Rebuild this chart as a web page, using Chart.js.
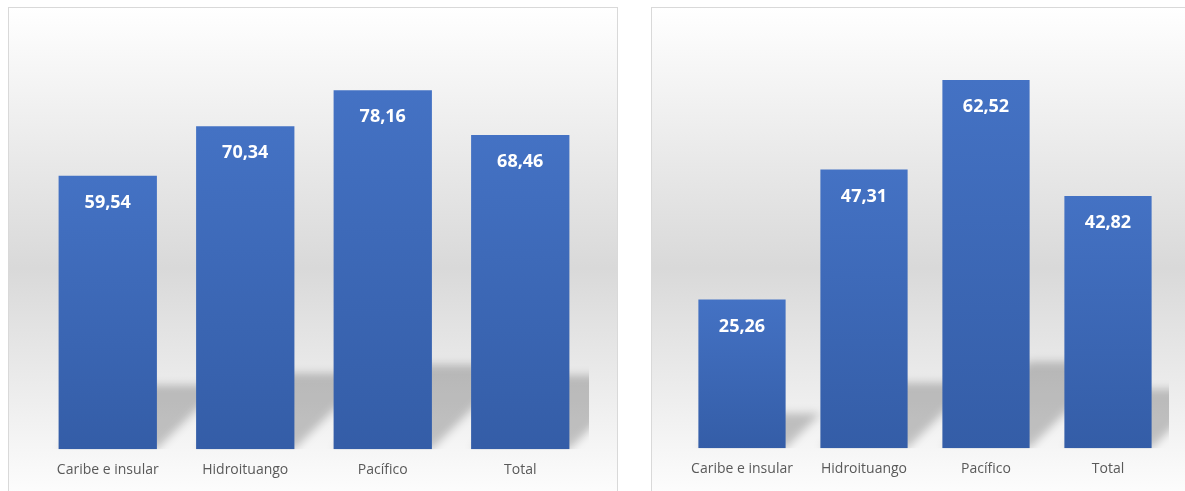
<!DOCTYPE html>
<html>
<head>
<meta charset="utf-8">
<script src="https://cdn.jsdelivr.net/npm/chart.js@4"></script>
<style>
  html, body { margin: 0; padding: 0; background: #ffffff; overflow: hidden; }
  body { width: 1185px; height: 491px; position: relative; }
  .panel {
    position: absolute;
    border: 1px solid #d9d9d9;
    background: linear-gradient(to bottom, #ffffff 0%, #d9d9d9 52%, #ffffff 100%);
    overflow: hidden;
  }
  #panelLeft { left: 8px; top: 7px; width: 608px; height: 500px; }
  #panelRight { left: 651px; top: 7px; width: 600px; height: 500px; }
  canvas { position: absolute; left: 0; top: 0; }
</style>
</head>
<body>
<div class="panel" id="panelLeft"><canvas id="chartLeft"></canvas></div>
<div class="panel" id="panelRight"><canvas id="chartRight"></canvas></div>
<script>
// categorías compartidas por los dos gráficos
const categories = ['Caribe e insular', 'Hidroituango', 'Pacífico', 'Total'];
const leftValues = [59.54, 70.34, 78.16, 68.46];
const rightValues = [25.26, 47.31, 62.52, 42.82];
const leftAxisMax = 90;
const rightAxisMax = 70;

const fmt = (v) => v.toFixed(2).replace('.', ',');

// sombra en perspectiva detrás de cada barra
const shadowPlugin = {
  id: 'barShadow',
  beforeDatasetsDraw(chart) {
    const { ctx, chartArea } = chart;
    const meta = chart.getDatasetMeta(0);
    ctx.save();
    ctx.beginPath();
    ctx.rect(chartArea.left, chartArea.top, chartArea.right - chartArea.left, chartArea.bottom - chartArea.top);
    ctx.clip();
    ctx.filter = 'blur(4px)';
    ctx.fillStyle = 'rgba(0, 0, 0, 0.21)';
    meta.data.forEach(bar => {
      const half = bar.width / 2;
      const h = bar.base - bar.y;
      const sh = h * 0.235;
      const dx = sh;
      ctx.beginPath();
      ctx.moveTo(bar.x - half, bar.base);
      ctx.lineTo(bar.x + half, bar.base);
      ctx.lineTo(bar.x + half + dx, bar.base - sh);
      ctx.lineTo(bar.x - half + dx, bar.base - sh);
      ctx.closePath();
      ctx.fill();
    });
    ctx.restore();
  }
};

// etiquetas de valor dentro de las barras
const valueLabels = {
  id: 'valueLabels',
  afterDatasetsDraw(chart) {
    const { ctx } = chart;
    const ds = chart.data.datasets[0];
    const meta = chart.getDatasetMeta(0);
    ctx.save();
    ctx.fillStyle = '#ffffff';
    ctx.font = 'bold 18px "Open Sans"';
    ctx.textAlign = 'center';
    ctx.textBaseline = 'middle';
    meta.data.forEach((bar, i) => {
      ctx.fillText(fmt(ds.data[i]), bar.x, bar.y + 27);
    });
    ctx.restore();
  }
};

function barGradient(c) {
  const chart = c.chart;
  if (!chart.chartArea || c.type !== 'data') return '#4472c4';
  const y = chart.scales.y;
  const top = y.getPixelForValue(c.raw);
  const base = y.getPixelForValue(0);
  const g = chart.ctx.createLinearGradient(0, top, 0, base);
  g.addColorStop(0, '#4472c4');
  g.addColorStop(1, '#345da7');
  return g;
}

function makeChart(id, values, axisMax, padding) {
  const canvas = document.getElementById(id);
  return new Chart(canvas, {
    type: 'bar',
    data: {
      labels: categories,
      datasets: [{
        data: values,
        backgroundColor: barGradient,
        borderWidth: 0,
        barPercentage: 0.715,
        categoryPercentage: 1
      }]
    },
    options: {
      responsive: false,
      animation: false,
      layout: { padding: padding },
      plugins: {
        legend: { display: false },
        tooltip: { enabled: false }
      },
      scales: {
        y: {
          display: false,
          min: 0,
          max: axisMax
        },
        x: {
          grid: { display: false, drawTicks: false },
          border: { display: false },
          ticks: {
            color: '#595959',
            font: { family: 'Open Sans', size: 14 },
            padding: 12
          }
        }
      }
    },
    plugins: [shadowPlugin, valueLabels]
  });
}

const cl = document.getElementById('chartLeft');
cl.width = 607; cl.height = 484;
cl.style.width = '607px'; cl.style.height = '484px';
const cr = document.getElementById('chartRight');
cr.width = 533; cr.height = 484;
cr.style.width = '533px'; cr.style.height = '484px';

makeChart('chartLeft', leftValues, leftAxisMax, { left: 30, right: 27, top: 28, bottom: 2 });
makeChart('chartRight', rightValues, rightAxisMax, { left: 29, right: 16, top: 28, bottom: 3 });
</script>
</body>
</html>
